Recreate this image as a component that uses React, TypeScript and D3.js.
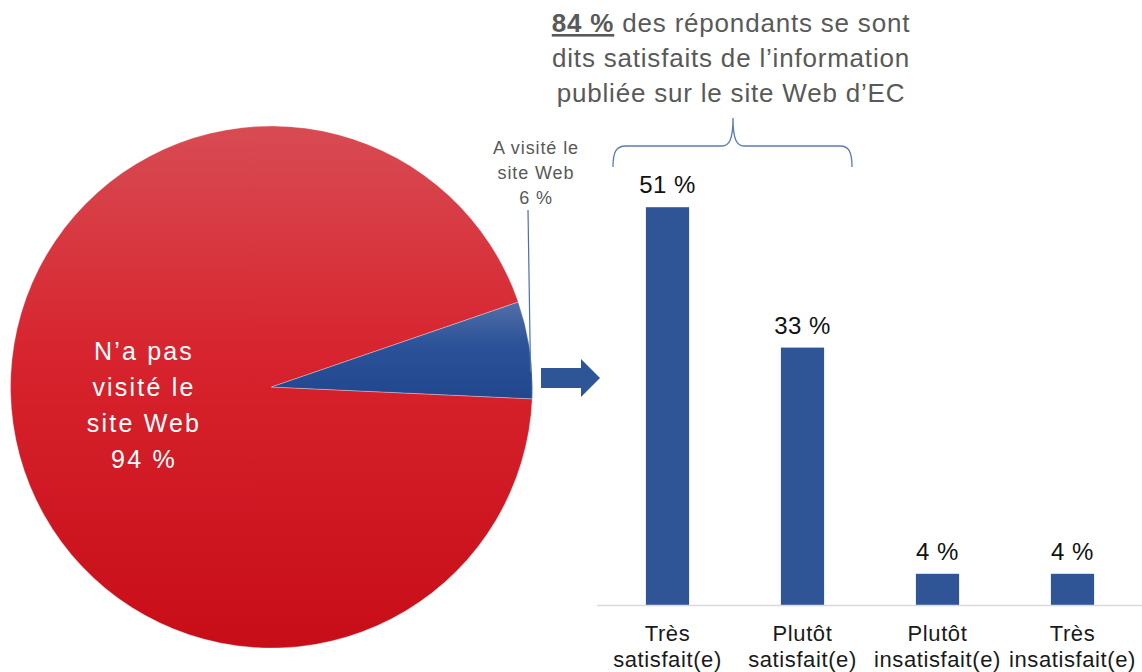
import React from "react";
import * as d3 from "d3";

const pieLabels = ["N’a pas visité le site Web", "A visité le site Web"];
const pieValues = [94, 6];
const pieLabelLines = [
  ["N’a pas", "visité le", "site Web", "94 %"],
  ["A visité le", "site Web", "6 %"],
];

const barCategories = ["Très satisfait(e)", "Plutôt satisfait(e)", "Plutôt insatisfait(e)", "Très insatisfait(e)"];
const barCategoryLines = [
  ["Très", "satisfait(e)"],
  ["Plutôt", "satisfait(e)"],
  ["Plutôt", "insatisfait(e)"],
  ["Très", "insatisfait(e)"],
];
const barValues = [51, 33, 4, 4];

const titleBold = "84 %";
const titleLines = ["des répondants se sont", "dits satisfaits de l’information", "publiée sur le site Web d’EC"];

const FONT = "'Liberation Sans', Arial, sans-serif";

export default function App() {
  const W = 1142;
  const H = 672;

  // Pie
  const cx = 271.5;
  const cy = 387;
  const r = 261;
  const startA = (92.6 * Math.PI) / 180;
  const pie = d3
    .pie<number>()
    .sort(null)
    .startAngle(startA)
    .endAngle(startA + 2 * Math.PI);
  const arcs = pie(pieValues);
  const arcGen = d3.arc<d3.PieArcDatum<number>>().innerRadius(0).outerRadius(r);

  // Bars
  const x = d3.scaleBand<string>().domain(barCategories).range([600, 1140]).paddingInner(0.68).paddingOuter(0.34);
  const y = d3.scaleLinear().domain([0, 60]).range([605, 137]);

  return (
    <svg
      width={W}
      height={H}
      style={{ position: "absolute", left: 0, top: 0, background: "#fff" }}
      fontFamily={FONT}
    >
      <defs>
        <linearGradient id="gRed" gradientUnits="userSpaceOnUse" x1="0" y1={-r} x2="0" y2={r}>
          <stop offset="0" stopColor="#d84b53" />
          <stop offset="0.45" stopColor="#d7232d" />
          <stop offset="1" stopColor="#c70d18" />
        </linearGradient>
        <linearGradient id="gBlue" gradientUnits="userSpaceOnUse" x1="0" y1={300 - cy} x2="0" y2={400 - cy}>
          <stop offset="0" stopColor="#5470a8" />
          <stop offset="0.45" stopColor="#2b5298" />
          <stop offset="1" stopColor="#21468d" />
        </linearGradient>
      </defs>

      {/* Pie */}
      <g transform={`translate(${cx},${cy})`}>
        {arcs.map((a, i) => (
          <path
            key={pieLabels[i]}
            d={arcGen(a) || ""}
            fill={i === 0 ? "url(#gRed)" : "url(#gBlue)"}
            stroke="#ffffff"
            strokeOpacity={0.5}
            strokeWidth={0.6}
          />
        ))}
      </g>

      {/* Pie label inside */}
      <text fill="#ffffff" fontSize={25} letterSpacing={2.2} textAnchor="middle">
        {pieLabelLines[0].map((t, i) => (
          <tspan key={i} x={144} y={360 + i * 36}>
            {t}
          </tspan>
        ))}
      </text>

      {/* Small label */}
      <text fill="#595959" fontSize={18} letterSpacing={0.9} textAnchor="middle">
        {pieLabelLines[1].map((t, i) => (
          <tspan key={i} x={536} y={154 + i * 25}>
            {t}
          </tspan>
        ))}
      </text>
      <line x1={528} y1={210} x2={530.5} y2={372} stroke="#4a6fb0" strokeWidth={1.2} />

      {/* Arrow */}
      <path d="M541,368 L581,368 L581,359 L600,378 L581,397 L581,388 L541,388 Z" fill="#2e5596" />

      {/* Title */}
      <text fill="#595959" fontSize={26} letterSpacing={0.8} textAnchor="middle">
        <tspan x={731} y={32}>
          <tspan fontWeight="bold" textDecoration="underline">
            {titleBold}
          </tspan>
          {" " + titleLines[0]}
        </tspan>
        <tspan x={731} y={67}>
          {titleLines[1]}
        </tspan>
        <tspan x={731} y={102}>
          {titleLines[2]}
        </tspan>
      </text>

      {/* Brace */}
      <path
        d="M613,167 C613,152 616,146 626,146 L722,146 C729,146 733,140 733,118 C733,140 737,146 744,146 L840,146 C849,146 852,152 852,167"
        fill="none"
        stroke="#5b7bb5"
        strokeWidth={1.3}
      />

      {/* Bars */}
      {barValues.map((v, i) => (
        <rect
          key={barCategories[i]}
          x={x(barCategories[i])}
          y={y(v)}
          width={x.bandwidth()}
          height={y(0) - y(v)}
          fill="#2f5597"
        />
      ))}
      <line x1={597} x2={1142} y1={y(0) + 0.5} y2={y(0) + 0.5} stroke="#d9d9d9" strokeWidth={1.5} />

      {/* Value labels */}
      {barValues.map((v, i) => (
        <text
          key={"v" + i}
          x={(x(barCategories[i]) || 0) + x.bandwidth() / 2}
          y={y(v) - 14}
          textAnchor="middle"
          fontSize={24}
          letterSpacing={0.5}
          fill="#111"
        >
          {v + " %"}
        </text>
      ))}

      {/* Category labels */}
      {barCategoryLines.map((lines, i) => (
        <text key={"c" + i} textAnchor="middle" fontSize={22} letterSpacing={0.6} fill="#1a1a1a">
          {lines.map((t, j) => (
            <tspan key={j} x={(x(barCategories[i]) || 0) + x.bandwidth() / 2} y={641 + j * 26}>
              {t}
            </tspan>
          ))}
        </text>
      ))}
    </svg>
  );
}
